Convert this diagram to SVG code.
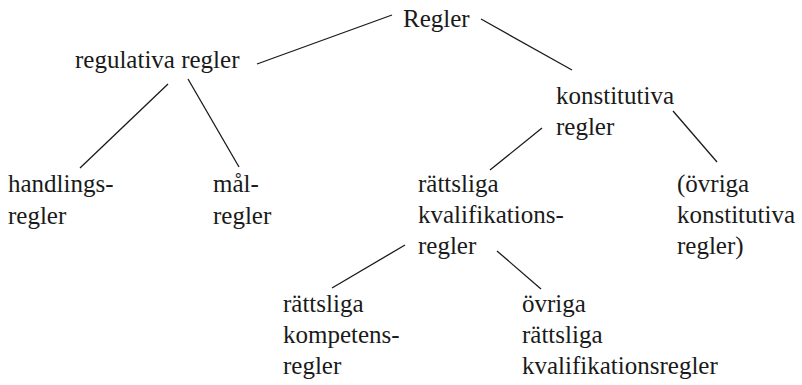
<svg xmlns="http://www.w3.org/2000/svg" width="802" height="385" viewBox="0 0 802 385">
<style>
.t{font-size:25px;fill:#1a1a1a}
.c line{stroke:#1a1a1a;stroke-width:1.3}
</style>
<rect width="802" height="385" fill="#fff"/>
<g class="c" id="connectors">
<line x1="392" y1="15" x2="257" y2="64"/>
<line x1="481" y1="19" x2="572" y2="70"/>
<line x1="168" y1="84" x2="80" y2="168"/>
<line x1="188" y1="79" x2="239" y2="167"/>
<line x1="542" y1="128" x2="490" y2="170"/>
<line x1="673" y1="111" x2="717" y2="162"/>
<line x1="405" y1="245" x2="332" y2="288"/>
<line x1="497" y1="251" x2="541" y2="289"/>
</g>
<g class="t" font-family="Liberation Serif, DejaVu Serif, serif">
<g id="n-regler"><text x="403" y="27">Regler</text></g>
<g id="n-regulativa"><text x="75" y="68">regulativa regler</text></g>
<g id="n-konstitutiva"><text x="556" y="104">konstitutiva</text><text x="556" y="135">regler</text></g>
<g id="n-handlings"><text x="8" y="192">handlings-</text><text x="8" y="224">regler</text></g>
<g id="n-mal"><text x="213" y="192">mål-</text><text x="213" y="224">regler</text></g>
<g id="n-kval"><text x="418" y="192">rättsliga</text><text x="418" y="223">kvalifikations-</text><text x="418" y="254">regler</text></g>
<g id="n-ovriga-konst"><text x="677" y="192">(övriga</text><text x="677" y="223">konstitutiva</text><text x="677" y="254">regler)</text></g>
<g id="n-kompetens"><text x="283" y="312">rättsliga</text><text x="283" y="343">kompetens-</text><text x="283" y="374">regler</text></g>
<g id="n-ovriga-ratt"><text x="522" y="312">övriga</text><text x="522" y="343">rättsliga</text><text x="522" y="374">kvalifikationsregler</text></g>
</g>
</svg>
